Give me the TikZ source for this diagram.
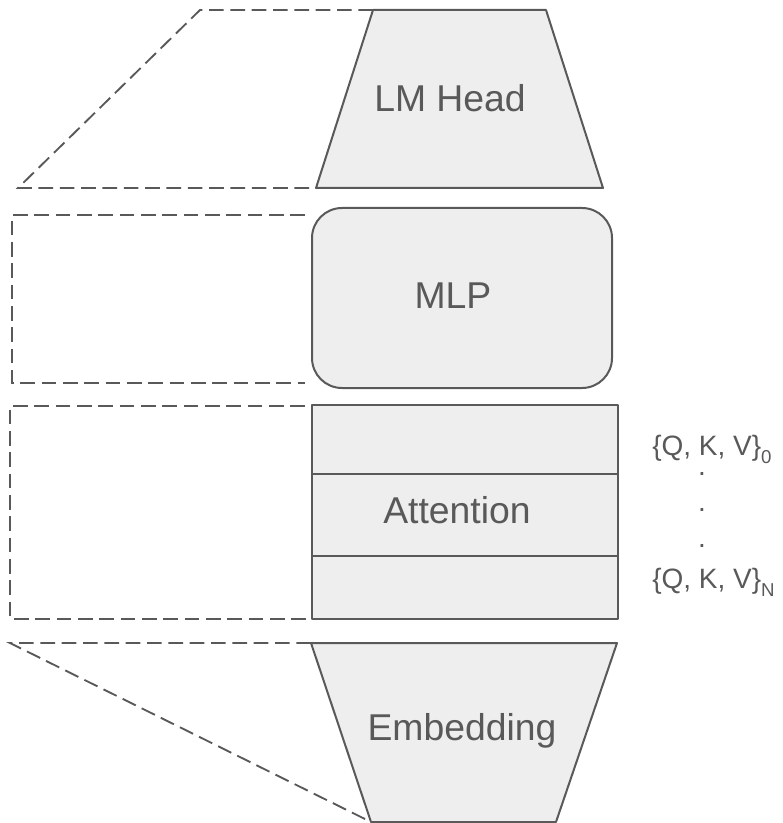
\documentclass[tikz,border=0pt]{standalone}
\usepackage{fontspec}
\setmainfont{Liberation Sans}
\definecolor{edge}{HTML}{595959}
\definecolor{block}{HTML}{EEEEEE}
% lowered small index after a key/value set
\newcommand\kvsub[1]{\raisebox{-6pt}{\fontsize{14}{16}\selectfont #1}}
\begin{document}
\begin{tikzpicture}[x=0.75pt,y=-0.75pt,
  blockfill/.style={fill=block, draw=edge, line width=1.5pt, line join=round},
  outline/.style={draw=edge, line width=1.4pt, dash pattern=on 11pt off 5pt, line join=miter},
  title/.style={text=edge, font=\fontsize{28}{32}\selectfont, inner sep=0pt, anchor=base},
  kvlabel/.style={text=edge, font=\fontsize{21}{24}\selectfont, inner sep=0pt, anchor=base west},
  dotmark/.style={text=edge, font=\fontsize{21}{24}\selectfont, inner sep=0pt, anchor=base}]
\useasboundingbox (0,0) rectangle (782,823);

% corner points of the blocks
\coordinate (lmTL) at (373,10);
\coordinate (lmTR) at (546,10);
\coordinate (lmBL) at (316,188);
\coordinate (lmBR) at (603,188);
\coordinate (mlpTL) at (312,208);
\coordinate (mlpBR) at (612,388);
\coordinate (atTL) at (312,405);
\coordinate (atBR) at (618,619);
\coordinate (atBL) at (312,619);
\coordinate (emTL) at (311,643);
\coordinate (emTR) at (617,643);
\coordinate (emBL) at (371,822);
\coordinate (emBR) at (556,822);

% LM head (widening trapezoid)
\path[blockfill] (lmTL) -- (lmTR) -- (lmBR) -- (lmBL) -- cycle;
\node[title] (lmhead) at (450,112) {LM Head};

% MLP (rounded box)
\path[blockfill, rounded corners=22.5pt] (mlpTL) rectangle (mlpBR);
\node[title] (mlp) at (453,308) {MLP};

% Attention (stacked rows)
\path[blockfill] (atTL) rectangle (atBR);
\draw[edge, line width=1.5pt] (312,474) -- (618,474);
\draw[edge, line width=1.5pt] (312,556) -- (618,556);
\node[title] (attn) at (457,523) {Attention};

% Embedding (narrowing trapezoid)
\path[blockfill] (emTL) -- (emTR) -- (emBR) -- (emBL) -- cycle;
\node[title] (emb) at (462,740) {Embedding};

% dashed expansions on the left
\coordinate (lmA) at (200,10);
\coordinate (lmB) at (18,188);
\draw[outline] (lmTL) -- (lmA) -- (lmB) -- (lmBL);

\coordinate (mlpA) at (305,215);
\coordinate (mlpB) at (12,215);
\coordinate (mlpC) at (12,383);
\coordinate (mlpD) at (305,383);
\draw[outline] (mlpA) -- (mlpB) -- (mlpC) -- (mlpD);

\coordinate (atA) at (305,406);
\coordinate (atB) at (10,406);
\coordinate (atC) at (10,619);
\draw[outline] (atA) -- (atB) -- (atC) -- (atBL);

\coordinate (emA) at (10,643);
\draw[outline] (emTL) -- (emA) -- (emBL);

% per-layer key/value sets
\node[kvlabel] (kv0) at (652,455) {\{Q, K, V\}\kvsub{0}};
\node[dotmark] (d1) at (702,475) {.};
\node[dotmark] (d2) at (702,511) {.};
\node[dotmark] (d3) at (702,547) {.};
\node[kvlabel] (kvN) at (652,588) {\{Q, K, V\}\kvsub{N}};
\end{tikzpicture}
\end{document}
